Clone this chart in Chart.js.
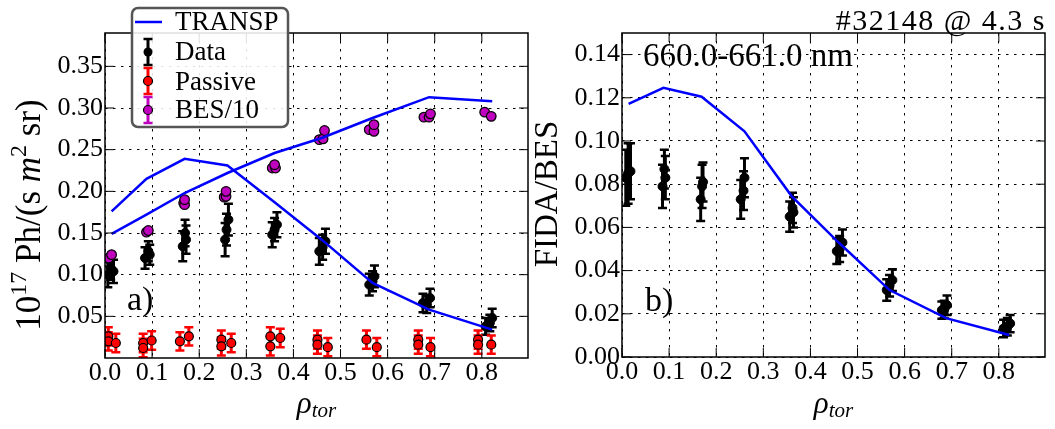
<!DOCTYPE html>
<html><head><meta charset="utf-8">
<script src="https://cdn.jsdelivr.net/npm/chart.js@4.4.1/dist/chart.umd.min.js"></script>
<style>
html,body{margin:0;padding:0;background:#fff;}
#wrap{position:relative;width:1055px;height:429px;overflow:hidden;}
.box{position:absolute;left:0;top:0;width:1055px;height:429px;}
</style></head><body>
<div id="wrap">
<div class="box"><canvas id="c1"></canvas></div>
<div class="box"><canvas id="c2"></canvas></div>
</div>
<script>
// ---------- data ----------
const xTicks = [0,0.1,0.2,0.3,0.4,0.5,0.6,0.7,0.8];
const xTickLabels = ['0.0','0.1','0.2','0.3','0.4','0.5','0.6','0.7','0.8'];
const yTicksA = [0.05,0.10,0.15,0.20,0.25,0.30,0.35];
const yTickLabelsA = ['0.05','0.10','0.15','0.20','0.25','0.30','0.35'];
const yTicksB = [0,0.02,0.04,0.06,0.08,0.10,0.12,0.14];
const yTickLabelsB = ['0.00','0.02','0.04','0.06','0.08','0.10','0.12','0.14'];

// TRANSP simulations
const rhoTransp   = [0.014,0.088,0.169,0.260,0.360,0.460,0.568,0.688,0.822];
const transpFida  = [0.176,0.215,0.239,0.231,0.187,0.142,0.090,0.058,0.034];
const transpBes   = [0.149,0.172,0.198,0.222,0.246,0.264,0.288,0.313,0.308];
const transpRatio = [0.1172,0.1246,0.1205,0.1045,0.0745,0.0530,0.0310,0.0180,0.0102];

// measured FIDA radiance (Data)
const dataRho = [0.006,0.012,0.018, 0.085,0.092,0.095, 0.165,0.170,0.172, 0.255,0.262,0.258, 0.355,0.365,0.360, 0.455,0.468,0.462, 0.561,0.572,0.568, 0.675,0.690,0.683, 0.808,0.822,0.817];
const dataVal = [0.100,0.108,0.104, 0.120,0.128,0.124, 0.134,0.150,0.142, 0.142,0.166,0.154, 0.148,0.160,0.154, 0.128,0.140,0.133, 0.088,0.098,0.092, 0.066,0.072,0.064, 0.038,0.048,0.042];
const dataErr = [0.015,0.014,0.014, 0.013,0.012,0.012, 0.018,0.016,0.017, 0.020,0.019,0.019, 0.015,0.015,0.014, 0.016,0.015,0.015, 0.013,0.013,0.012, 0.011,0.011,0.010, 0.010,0.011,0.010];

// passive radiance
const pasRho = [0.007,0.007,0.023, 0.081,0.081,0.099, 0.159,0.178, 0.247,0.247,0.268, 0.351,0.351,0.372, 0.451,0.451,0.473, 0.555,0.577, 0.665,0.665,0.691, 0.792,0.792,0.820];
const pasVal = [0.026,0.020,0.018, 0.018,0.012,0.021, 0.020,0.026, 0.022,0.014,0.018, 0.026,0.014,0.024, 0.022,0.016,0.013, 0.022,0.013, 0.022,0.016,0.013, 0.022,0.016,0.016];
const pasErr = [0.011,0.011,0.011, 0.011,0.011,0.011, 0.011,0.011, 0.011,0.011,0.011, 0.011,0.011,0.011, 0.011,0.011,0.011, 0.011,0.011, 0.011,0.011,0.011, 0.011,0.011,0.011];

// BES / 10
const besRho = [0.008,0.014, 0.088,0.092, 0.167,0.169,0.169, 0.253,0.257,0.257, 0.355,0.362,0.360, 0.455,0.463,0.466, 0.561,0.571,0.571, 0.677,0.688,0.691, 0.806,0.820];
const besVal = [0.120,0.124, 0.151,0.153, 0.186,0.184,0.190, 0.193,0.194,0.200, 0.228,0.228,0.232, 0.262,0.263,0.273, 0.274,0.272,0.280, 0.289,0.289,0.293, 0.295,0.290];
const besErr = [0.002,0.002, 0.002,0.002, 0.002,0.002,0.002, 0.002,0.002,0.002, 0.002,0.002,0.002, 0.002,0.002,0.002, 0.002,0.002,0.002, 0.002,0.002,0.002, 0.002,0.002];

// FIDA / BES ratio
const ratRho = [0.008,0.013,0.018, 0.086,0.090,0.092, 0.167,0.170,0.172, 0.252,0.258,0.260, 0.356,0.362,0.364, 0.456,0.468,0.462, 0.562,0.574,0.568, 0.679,0.690,0.684, 0.810,0.824,0.818];
const ratVal = [0.083,0.085,0.086, 0.079,0.087,0.083, 0.073,0.079,0.081, 0.073,0.077,0.083, 0.065,0.069,0.067, 0.049,0.053,0.050, 0.031,0.0356,0.033, 0.0217,0.024,0.022, 0.0132,0.0155,0.014];
const ratErr = [0.013,0.014,0.013, 0.010,0.009,0.010, 0.010,0.010,0.009, 0.009,0.009,0.009, 0.007,0.007,0.007, 0.006,0.006,0.006, 0.005,0.005,0.005, 0.004,0.0045,0.004, 0.004,0.004,0.004];

// ---------- helpers ----------
const F = "'Liberation Serif','Times New Roman',serif";
const BLUE = '#0000ff', RED = '#ff0000', MAG = '#bf00bf';
const pts = (xs, ys) => xs.map((x,i)=>({x:x, y:ys[i]}));

function xScale(h){
  return {
    type:'linear', min:0, max:0.898,
    afterBuildTicks: s => { s.ticks = xTicks.map(v=>({value:v})); },
    afterFit: s => { s.height = h; },
    ticks:{ font:{family:F,size:26}, color:'#000', padding:0, maxRotation:0, autoSkip:false,
            callback:(v,i)=>xTickLabels[i] },
    grid:{ color:'#000', lineWidth:1, drawTicks:false },
    border:{ display:false, dash:[2.5,5.5] }
  };
}
function yScale(max, ticks, labels, w){
  return {
    type:'linear', min:0, max:max,
    afterBuildTicks: s => { s.ticks = ticks.map(v=>({value:v})); },
    afterFit: s => { s.width = w; },
    ticks:{ font:{family:F,size:26}, color:'#000', padding:2, autoSkip:false,
            callback:(v,i)=>labels[i] },
    grid:{ color:'#000', lineWidth:1, drawTicks:false },
    border:{ display:false, dash:[2.5,5.5] }
  };
}

function errBars(sets){
  return { id:'errbars', beforeDatasetsDraw(chart){
    const {ctx, chartArea:a, scales:{x,y}} = chart;
    ctx.save();
    ctx.beginPath(); ctx.rect(a.left,a.top,a.right-a.left,a.bottom-a.top); ctx.clip();
    sets.forEach(s=>{
      ctx.strokeStyle = s.color;
      for(let i=0;i<s.xs.length;i++){
        const px = x.getPixelForValue(s.xs[i]);
        const y1 = y.getPixelForValue(s.ys[i]-s.es[i]);
        const y2 = y.getPixelForValue(s.ys[i]+s.es[i]);
        ctx.lineWidth = 3;
        ctx.beginPath(); ctx.moveTo(px,y1); ctx.lineTo(px,y2); ctx.stroke();
        ctx.lineWidth = 2.5;
        ctx.beginPath(); ctx.moveTo(px-4.5,y1); ctx.lineTo(px+4.5,y1);
        ctx.moveTo(px-4.5,y2); ctx.lineTo(px+4.5,y2); ctx.stroke();
      }
    });
    ctx.restore();
  }};
}

const framePlugin = { id:'frame', afterDatasetsDraw(chart){
  const {ctx, chartArea:a, scales:{x,y}} = chart;
  const L = 9;
  ctx.save(); ctx.setLineDash([]); ctx.strokeStyle='#000'; ctx.lineWidth=1;
  ctx.beginPath();
  x.ticks.forEach(t=>{ const p=x.getPixelForValue(t.value);
    ctx.moveTo(p,a.bottom); ctx.lineTo(p,a.bottom-L); ctx.moveTo(p,a.top); ctx.lineTo(p,a.top+L); });
  y.ticks.forEach(t=>{ const p=y.getPixelForValue(t.value);
    ctx.moveTo(a.left,p); ctx.lineTo(a.left+L,p); ctx.moveTo(a.right,p); ctx.lineTo(a.right-L,p); });
  ctx.stroke();
  ctx.lineWidth=1.5;
  ctx.strokeRect(a.left,a.top,a.right-a.left,a.bottom-a.top);
  ctx.restore();
}};

// rich text: parts [{t,size,italic,dy}]
function richWidth(ctx, parts){
  let w=0; parts.forEach(p=>{ ctx.font=(p.italic?'italic ':'')+p.size+'px '+F; w+=ctx.measureText(p.t).width; }); return w;
}
function drawRich(ctx, parts, cx, baseline){
  const w = richWidth(ctx, parts);
  let x = cx - w/2;
  ctx.textAlign='left'; ctx.textBaseline='alphabetic'; ctx.fillStyle='#000';
  parts.forEach(p=>{ ctx.font=(p.italic?'italic ':'')+p.size+'px '+F; ctx.fillText(p.t, x, baseline+(p.dy||0)); x+=ctx.measureText(p.t).width; });
}
const rhoParts = [{t:'ρ',size:31,italic:true},{t:'tor',size:21,italic:true,dy:4}];

function errSym(ctx, cx, cy, color, fill, edge){
  ctx.strokeStyle=color; ctx.lineWidth=3;
  ctx.beginPath(); ctx.moveTo(cx,cy-13); ctx.lineTo(cx,cy+13); ctx.stroke();
  ctx.lineWidth=2.5;
  ctx.beginPath(); ctx.moveTo(cx-4.5,cy-13); ctx.lineTo(cx+4.5,cy-13); ctx.moveTo(cx-4.5,cy+13); ctx.lineTo(cx+4.5,cy+13); ctx.stroke();
  ctx.beginPath(); ctx.arc(cx,cy,4.5,0,Math.PI*2); ctx.fillStyle=fill; ctx.fill();
  if(edge){ ctx.strokeStyle=edge; ctx.lineWidth=1.2; ctx.stroke(); }
}

const textA = { id:'textA', afterDraw(chart){
  const ctx = chart.ctx, a = chart.chartArea;
  ctx.save();
  ctx.fillStyle='#000'; ctx.font='34px '+F; ctx.textAlign='left'; ctx.textBaseline='alphabetic';
  ctx.fillText('a)', 127, 310);
  drawRich(ctx, rhoParts, (a.left+a.right)/2, 413);
  ctx.save(); ctx.translate(40, 215); ctx.rotate(-Math.PI/2);
  drawRich(ctx, [{t:'10',size:35},{t:'17',size:24,dy:-14},{t:' Ph/(s ',size:35},{t:'m',size:35,italic:true},{t:'2',size:24,dy:-14},{t:' sr)',size:35}], 0, 0);
  ctx.restore();
  // legend
  const bx=132, by=8, bw=156, bh=119, r=6;
  ctx.beginPath(); ctx.roundRect(bx,by,bw,bh,r);
  ctx.fillStyle='rgba(255,255,255,0.88)'; ctx.fill();
  ctx.strokeStyle='#555'; ctx.lineWidth=2.5; ctx.stroke();
  ctx.strokeStyle=BLUE; ctx.lineWidth=2.5;
  ctx.beginPath(); ctx.moveTo(135,22); ctx.lineTo(162,22); ctx.stroke();
  errSym(ctx,148,52,'#000','#000',null);
  errSym(ctx,148,81,RED,RED,'#000');
  errSym(ctx,148,110,MAG,MAG,'#000');
  ctx.fillStyle='#000'; ctx.font='27px '+F; ctx.textAlign='left';
  ctx.fillText('TRANSP',175,30);
  ctx.fillText('Data',175,60);
  ctx.fillText('Passive',175,90);
  ctx.fillText('BES/10',175,118);
  ctx.restore();
}};

const textB = { id:'textB', afterDraw(chart){
  const ctx = chart.ctx, a = chart.chartArea;
  ctx.save();
  ctx.fillStyle='#000'; ctx.textBaseline='alphabetic';
  ctx.font='34px '+F; ctx.textAlign='left';
  ctx.fillText('b)', 645, 311);
  ctx.font='33px '+F;
  ctx.fillText('660.0-661.0 nm', 643, 66);
  ctx.font='30px '+F; ctx.textAlign='right';
  ctx.letterSpacing='1.5px';
  ctx.fillText('#32148 @ 4.3 s', 1046, 30);
  ctx.letterSpacing='0px';
  drawRich(ctx, rhoParts, (a.left+a.right)/2, 413);
  ctx.save(); ctx.translate(557, 194); ctx.rotate(-Math.PI/2);
  ctx.font='33px '+F; ctx.textAlign='center'; ctx.fillText('FIDA/BES',0,0);
  ctx.restore();
  ctx.restore();
}};

const common = {
  responsive:true, maintainAspectRatio:false, animation:false,
  plugins:{ legend:{display:false}, tooltip:{enabled:false} }
};

new Chart(document.getElementById('c1'), {
  type:'scatter',
  data:{ datasets:[
    { data:pts(rhoTransp,transpFida), showLine:true, borderColor:BLUE, borderWidth:2.5, pointRadius:0, tension:0, fill:false },
    { data:pts(rhoTransp,transpBes), showLine:true, borderColor:BLUE, borderWidth:2.5, pointRadius:0, tension:0, fill:false },
    { data:pts(dataRho,dataVal), pointRadius:4.5, pointBackgroundColor:'#000', pointBorderColor:'#000', pointBorderWidth:1 },
    { data:pts(pasRho,pasVal), pointRadius:4.5, pointBackgroundColor:RED, pointBorderColor:'#000', pointBorderWidth:1.2 },
    { data:pts(besRho,besVal), pointRadius:4.8, pointBackgroundColor:MAG, pointBorderColor:'#000', pointBorderWidth:1.2 }
  ]},
  options:Object.assign({}, common, {
    layout:{ padding:{left:0, top:33, right:527, bottom:0}, autoPadding:false },
    scales:{ x:xScale(71), y:yScale(0.39, yTicksA, yTickLabelsA, 105) }
  }),
  plugins:[ errBars([
    {xs:dataRho, ys:dataVal, es:dataErr, color:'#000'},
    {xs:pasRho, ys:pasVal, es:pasErr, color:RED},
    {xs:besRho, ys:besVal, es:besErr, color:MAG}
  ]), framePlugin, textA ]
});

new Chart(document.getElementById('c2'), {
  type:'scatter',
  data:{ datasets:[
    { data:pts(rhoTransp,transpRatio), showLine:true, borderColor:BLUE, borderWidth:2.5, pointRadius:0, tension:0, fill:false },
    { data:pts(ratRho,ratVal), pointRadius:4.5, pointBackgroundColor:'#000', pointBorderColor:'#000', pointBorderWidth:1 }
  ]},
  options:Object.assign({}, common, {
    layout:{ padding:{left:0, top:33, right:10, bottom:0}, autoPadding:false },
    scales:{ x:xScale(72), y:yScale(0.15, yTicksB, yTickLabelsB, 622) }
  }),
  plugins:[ errBars([
    {xs:ratRho, ys:ratVal, es:ratErr, color:'#000'}
  ]), framePlugin, textB ]
});
</script>
</body></html>
